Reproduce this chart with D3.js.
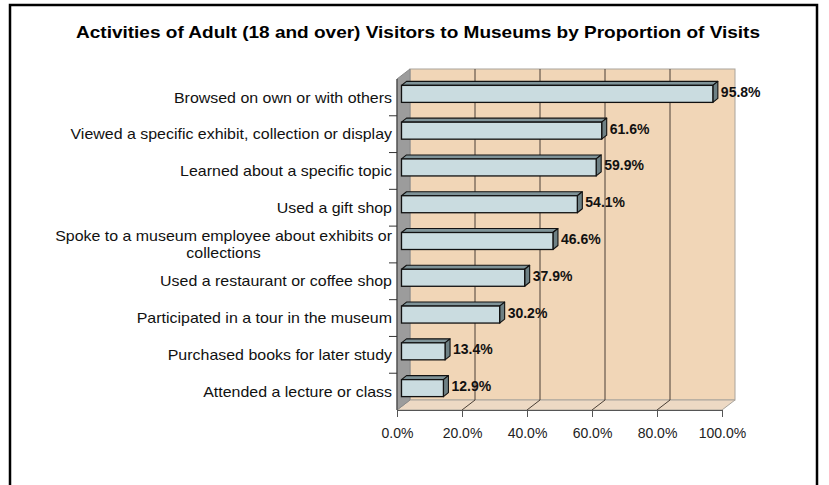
<!DOCTYPE html>
<html><head><meta charset="utf-8">
<script src="https://cdn.jsdelivr.net/npm/d3@7"></script>
<style>
html,body{margin:0;padding:0;background:#fff;}
svg{display:block;}
</style></head>
<body><svg id="chart" width="829" height="485"></svg>
<script>
const title = "Activities of Adult (18 and over) Visitors to Museums by Proportion of Visits";
const categories = [
  "Browsed on own or with others",
  "Viewed a specific exhibit, collection or display",
  "Learned about a specific topic",
  "Used a gift shop",
  "Spoke to a museum employee about exhibits or collections",
  "Used a restaurant or coffee shop",
  "Participated in a tour in the museum",
  "Purchased books for later study",
  "Attended a lecture or class"
];
const values = [95.8, 61.6, 59.9, 54.1, 46.6, 37.9, 30.2, 13.4, 12.9];
const tickValues = [0, 20, 40, 60, 80, 100];

const svg = d3.select("#chart");
const FONT = "'Liberation Sans', Arial, Helvetica, sans-serif";

// frame
svg.append("rect").attr("x",10).attr("y",5).attr("width",807).attr("height",500)
  .attr("fill","none").attr("stroke","#000").attr("stroke-width",2.5);

// title
svg.append("text").attr("x",418).attr("y",38).attr("text-anchor","middle")
  .attr("font-family",FONT).attr("font-weight","bold").attr("font-size",16.5)
  .attr("textLength",684).attr("lengthAdjust","spacingAndGlyphs")
  .attr("fill","#000").text(title);

// geometry
const x = d3.scaleLinear().domain([0,100]).range([397,722]);
const y = d3.scaleBand().domain(categories).range([79,410]);
const DX = 13, DY = -10;           // wall depth
const BX = 4.5, BY = -3.5;         // bar front offset
const BDX = 5, BDY = -4;           // bar depth
const barH = 17;

const x0 = x(0), x1 = x(100), yT = y.range()[0], yB = y.range()[1];

// back wall
svg.append("rect").attr("x",x0+DX).attr("y",yT+DY).attr("width",x1-x0).attr("height",yB-yT)
  .attr("fill","#F1D6B7").attr("stroke","#A9A49C").attr("stroke-width",1);
// floor
svg.append("path").attr("d",`M${x0},${yB}L${x1},${yB}L${x1+DX},${yB+DY}L${x0+DX},${yB+DY}Z`)
  .attr("fill","#EDD9C4").attr("stroke","#A9A49C").attr("stroke-width",1);
// left wall
svg.append("path").attr("d",`M${x0},${yT}L${x0+DX},${yT+DY}L${x0+DX},${yB+DY}L${x0},${yB}Z`)
  .attr("fill","#9C9C9C").attr("stroke","#8a8a8a").attr("stroke-width",1);

// gridlines
tickValues.filter(t=>t>0 && t<100).forEach(t=>{
  const gx = x(t);
  svg.append("path").attr("d",`M${gx+DX},${yT+DY}L${gx+DX},${yB+DY}L${gx},${yB}`)
    .attr("fill","none").attr("stroke","#4a3f36").attr("stroke-width",1);
});

// bottom axis
const ax = svg.append("g").attr("transform",`translate(0,${yB})`)
  .call(d3.axisBottom(x).tickValues(tickValues).tickFormat(d=>d.toFixed(1)+"%").tickSize(7).tickPadding(11));
ax.select(".domain").attr("stroke","#555").attr("stroke-width",1);
ax.selectAll(".tick line").attr("stroke","#555");
ax.selectAll(".tick text").attr("font-family",FONT).attr("font-size",14).attr("fill","#222");

// left axis line and category ticks
svg.append("line").attr("x1",x0).attr("x2",x0).attr("y1",yT).attr("y2",yB)
  .attr("stroke","#333").attr("stroke-width",1);
categories.forEach((c,i)=>{
  if(i===0) return;
  svg.append("line").attr("x1",x0-8).attr("x2",x0).attr("y1",y(c)).attr("y2",y(c))
    .attr("stroke","#333").attr("stroke-width",1);
});

// category labels (wrapped)
const FS = 14, SX = 1.14, LBLX = 392, MAXW = 360;
categories.forEach((c,i)=>{
  const cy = y(c) + y.bandwidth()/2 - 1;
  const g = svg.append("g").attr("transform",`translate(${LBLX},${cy}) scale(${SX},1)`);
  const words = c.split(" ");
  const lines = [];
  let cur = [];
  const meas = g.append("text").attr("font-family",FONT).attr("font-size",FS);
  words.forEach(w=>{
    const trial = cur.concat([w]).join(" ");
    meas.text(trial);
    if(meas.node().getComputedTextLength()*SX > MAXW && cur.length){
      lines.push(cur.join(" ")); cur=[w];
    } else cur.push(w);
  });
  lines.push(cur.join(" "));
  meas.remove();
  const lh = 17;
  let firstW = 0;
  lines.forEach((ln,k)=>{
    const t = g.append("text").attr("font-family",FONT).attr("font-size",FS).attr("fill","#111")
      .attr("dominant-baseline","central")
      .attr("y",(k-(lines.length-1)/2)*lh + 1).text(ln);
    if(k===0){ t.attr("text-anchor","end"); firstW = t.node().getComputedTextLength(); }
    else { t.attr("text-anchor","middle").attr("x",-firstW/2); }
  });
});

// bars
const bars = svg.append("g");
categories.forEach((c,i)=>{
  const v = values[i];
  const cy = y(c) + y.bandwidth()/2 + BY;
  const xl = x(0) + BX, xr = x(v) + BX;
  const yt = cy - barH/2, yb = cy + barH/2;
  const g = bars.append("g");
  // top face
  g.append("path").attr("d",`M${xl},${yt}L${xl+BDX},${yt+BDY}L${xr+BDX},${yt+BDY}L${xr},${yt}Z`)
    .attr("fill","#7F9398").attr("stroke","#111").attr("stroke-width",1.1).attr("stroke-linejoin","round");
  // right face
  g.append("path").attr("d",`M${xr},${yt}L${xr+BDX},${yt+BDY}L${xr+BDX},${yb+BDY}L${xr},${yb}Z`)
    .attr("fill","#6E8084").attr("stroke","#111").attr("stroke-width",1.1).attr("stroke-linejoin","round");
  // front face
  g.append("rect").attr("x",xl).attr("y",yt).attr("width",xr-xl).attr("height",barH)
    .attr("fill","#CADCE0").attr("stroke","#111").attr("stroke-width",1.3);
  // value label
  svg.append("text").attr("x",xr+BDX+3).attr("y",cy-2)
    .attr("dominant-baseline","central")
    .attr("font-family",FONT).attr("font-weight","bold").attr("font-size",14).attr("fill","#111")
    .text(v.toFixed(1)+"%");
});
</script></body></html>
